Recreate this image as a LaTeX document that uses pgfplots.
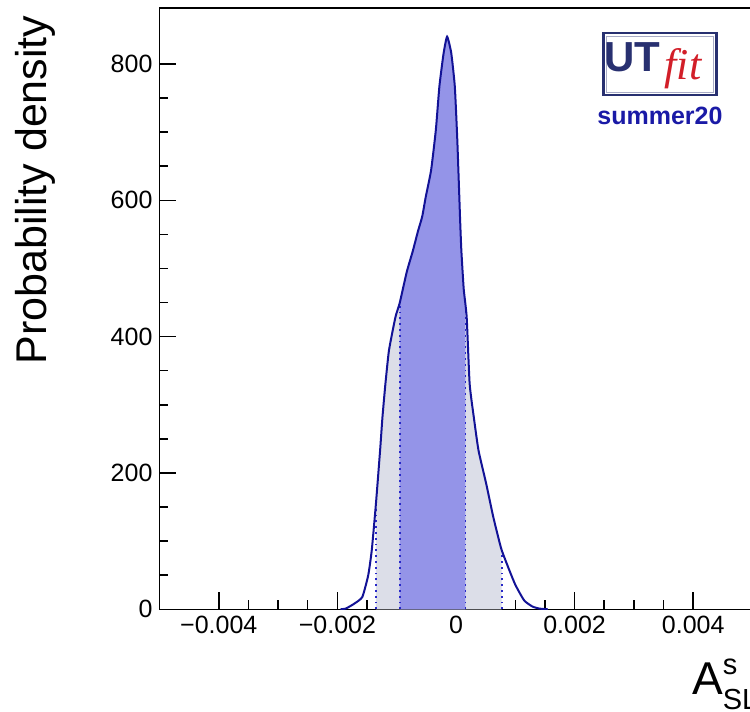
\documentclass[border=0pt]{standalone}
\usepackage{pgfplots}
\pgfplotsset{compat=1.18}
\usepgfplotslibrary{fillbetween}
\usepackage{pgfplotstable}
\usepackage{fontspec}
\setmainfont{Liberation Sans}
\setsansfont{Liberation Sans}
\newfontfamily\logoserif{Liberation Serif}

\definecolor{curvec}{RGB}{18,18,150}
\definecolor{innerc}{RGB}{148,148,232}
\definecolor{outerc}{RGB}{220,222,232}
\definecolor{dotc}{RGB}{40,40,200}
\definecolor{logonavy}{RGB}{40,48,112}
\definecolor{logored}{RGB}{210,30,40}
\definecolor{logoblue}{RGB}{26,26,166}

% posterior density of A_SL^s
\pgfplotstableread{
x y
-0.00195 0
-0.00186 1
-0.00172 8
-0.00158 18
-0.00148 50
-0.00142 87
-0.00135 155
-0.00128 233
-0.00124 282
-0.00119 331
-0.00113 380
-0.00102 429
-0.00095 449
-0.00083 495
-0.00073 525
-0.00064 555
-0.00057 576
-0.00051 605
-0.00042 644
-0.00034 703
-0.00028 767
-0.00021 815
-0.00015 840
-0.00008 816
-0.00002 767
0.00002 693
0.00005 620
0.00007 570
0.00009 527
0.00013 470
0.00018 429
0.00023 331
0.00030 282
0.00038 233
0.00051 184
0.00063 135
0.00077 87
0.00099 38
0.00115 13
0.00129 4
0.00141 1
0.00155 0
}\pdfdata

\begin{document}
\begin{tikzpicture}
\begin{axis}[
  at={(0pt,0pt)}, anchor=south west,
  scale only axis, width=296.5pt, height=300.65pt,
  xmin=-0.005, xmax=0.005, ymin=0, ymax=882,
  scaled x ticks=false, scaled y ticks=false,
  xtick={-0.004,-0.002,0,0.002,0.004},
  xticklabels={−0.004,−0.002,0,0.002,0.004},
  ytick={0,200,400,600,800},
  yticklabels={0,200,400,600,800},
  minor x tick num=3, minor y tick num=3,
  xtick pos=left, ytick pos=left,
  tick align=inside,
  major tick length=8.5pt, minor tick length=4.5pt,
  tick style={black, line width=0.75pt},
  axis line style={line width=0.75pt},
  ticklabel style={font=\fontsize{12.5}{15}\selectfont},
  clip=true,
]
\addplot[name path=pdf, draw=none, smooth, tension=0.3] table[x=x, y=y] {\pdfdata};
\addplot[name path=base, draw=none] coordinates {(-0.005,0) (0.005,0)};
\addplot[fill=outerc, draw=none] fill between[of=pdf and base, soft clip={domain=-0.00135:0.00077}];
\addplot[fill=innerc, draw=none] fill between[of=pdf and base, soft clip={domain=-0.00095:0.00016}];
\addplot[dotc, dotted, line width=0.9pt] coordinates {(-0.00135,0) (-0.00135,155)};
\addplot[dotc, dotted, line width=0.9pt] coordinates {(-0.00095,0) (-0.00095,449)};
\addplot[dotc, dotted, line width=0.9pt] coordinates {(0.00016,0) (0.00016,445)};
\addplot[dotc, dotted, line width=0.9pt] coordinates {(0.00077,0) (0.00077,87)};
\addplot[curvec, line width=1pt, smooth, tension=0.3] table[x=x, y=y] {\pdfdata};
\end{axis}

% axis titles
\node[rotate=90, font=\fontsize{21.5}{25}\selectfont] at (-62.25pt,209.65pt) {Probability density};
\node[anchor=base west, inner sep=0pt, font=\fontsize{23}{27}\selectfont] at (266.1pt,-42.85pt)
  {A\rlap{\raisebox{10pt}{\fontsize{14.5}{16}\selectfont s}}\raisebox{-7.5pt}{\fontsize{14.5}{16}\selectfont SL}};

% UTfit logo
\draw[logonavy, line width=1.2pt, fill=white] (222pt,257.15pt) rectangle (278.5pt,288.15pt);
\draw[logonavy!40, line width=0.4pt] (223.5pt,258.65pt) rectangle (277pt,286.65pt);
\node[text=logonavy, font=\fontsize{21}{24}\selectfont\bfseries] at (236.5pt,276.15pt) {UT};
\node[text=logored, font=\fontsize{22}{26}\selectfont\logoserif\itshape] at (261.75pt,270.15pt) {fit};
\node[text=logoblue, font=\fontsize{12.5}{15}\selectfont\bfseries] at (250.25pt,246.9pt) {summer20};

\pgfresetboundingbox
\path[use as bounding box] (-79.75pt,-51.35pt) rectangle (295.25pt,304.65pt);
\end{tikzpicture}
\end{document}
